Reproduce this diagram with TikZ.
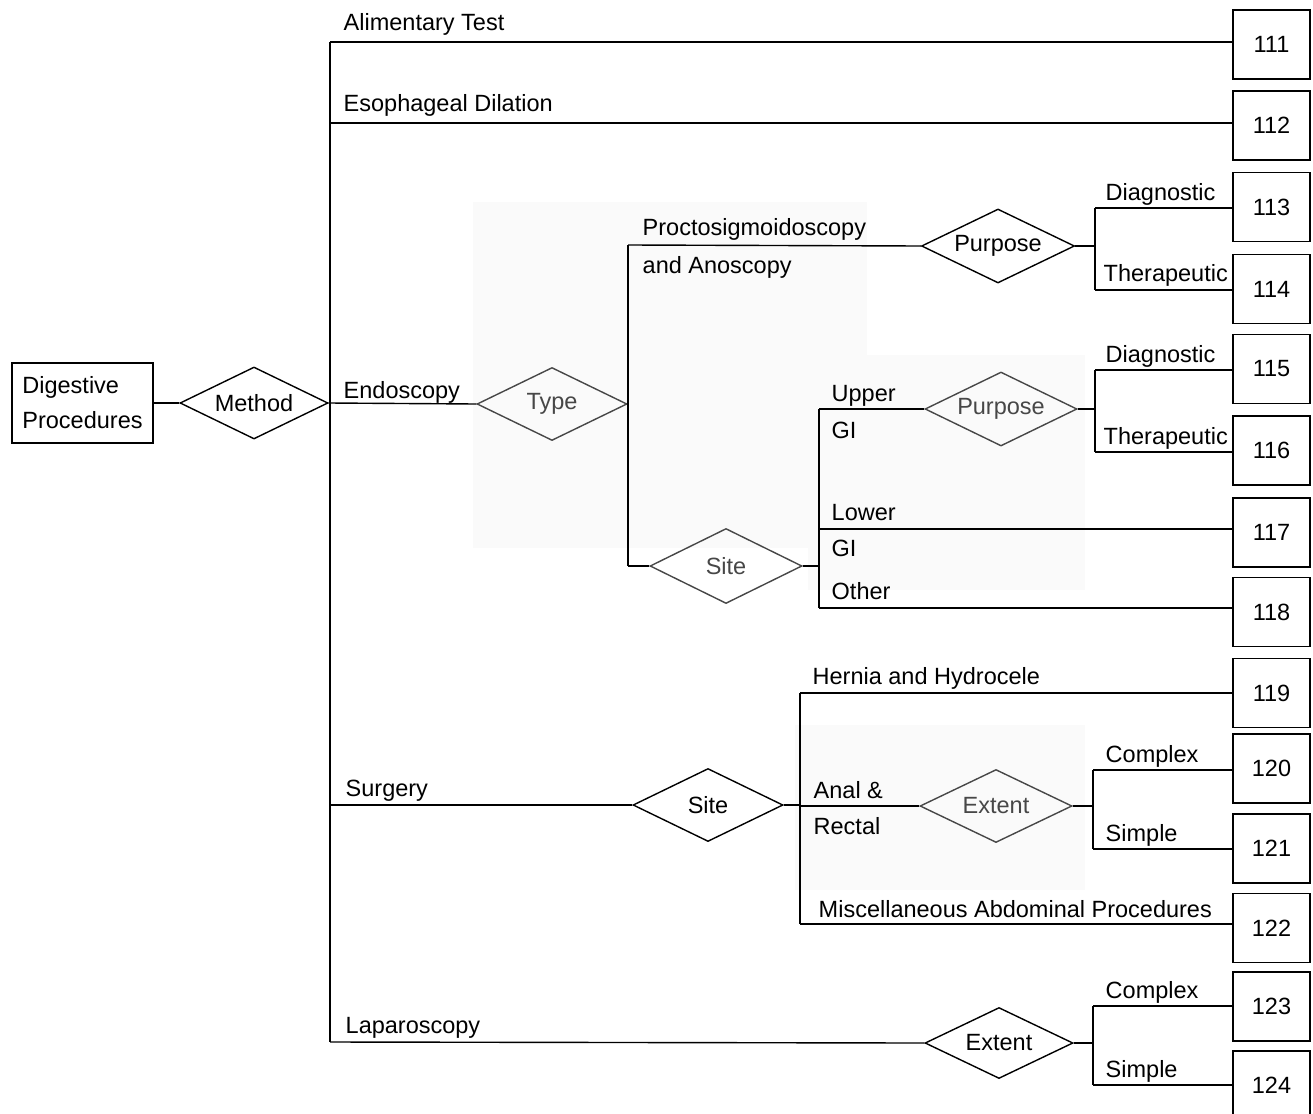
\documentclass[tikz,border=0pt]{standalone}
\usepackage{fontspec}
\setmainfont{Liberation Sans}
\usetikzlibrary{shapes.geometric}
\begin{document}
\begin{tikzpicture}[x=1pt,y=-1pt,line width=1.4pt,
  font=\fontsize{23.5}{35}\selectfont,
  box/.style={draw,minimum width=77pt,minimum height=69pt,inner sep=0pt},
  dia/.style={draw,diamond,aspect=2,minimum width=150pt,minimum height=73pt,inner sep=0pt},
  faded/.style={draw=black!72,text=black!72},
  lbl/.style={anchor=base west,inner sep=0pt},
  shade/.style={fill=black!2,draw=none}]
\useasboundingbox (0,0) rectangle (1313,1113);
\clip (0,0) rectangle (1313,1113);
% faint scanned background areas
\fill[shade] (473,202) rectangle (867,548);
\fill[shade] (808,355) rectangle (1085,590);
\fill[shade] (795,725) rectangle (1085,890);

% root and first decision
\node[draw,minimum width=141pt,minimum height=80pt,inner sep=0pt,align=left] (dp) at (82.5,403) {Digestive\\Procedures};
\node[dia,minimum width=148pt,minimum height=72pt] (method) at (254,403) {Method};

% code boxes
\foreach \n/\y in {111/44.5,112/125.5,113/207,114/289,115/369,116/450.5,117/532.5,118/612,119/693,120/768.5,121/848.5,122/928,123/1006.5,124/1085.5}
  \node[box] (b\n) at (1271.5,\y) {\n};

% decision diamonds
\node[dia,faded] (type) at (552,404) {Type};
\node[dia,minimum width=153pt,minimum height=74pt] (purp1) at (998,246) {Purpose};
\node[dia,faded,minimum width=152pt,minimum height=75pt] (site1) at (726,566) {Site};
\node[dia,faded,minimum width=152pt,minimum height=74pt] (purp2) at (1001,409) {Purpose};
\node[dia,minimum width=150pt,minimum height=73pt] (site2) at (708,805) {Site};
\node[dia,faded,minimum width=152pt,minimum height=73pt] (ext1) at (996,806) {Extent};
\node[dia,minimum width=148pt,minimum height=71pt] (ext2) at (999,1043) {Extent};

% bus coordinates
\coordinate (mtop) at (330,42);
\coordinate (mesd) at (330,123);
\coordinate (msur) at (330,805);
\coordinate (mbot) at (330,1042);
\coordinate (ttop) at (628,245);
\coordinate (tbot) at (628,566);
\coordinate (stop) at (819,409);
\coordinate (slow) at (819,529);
\coordinate (sbot) at (819,608);
\coordinate (htop) at (800,693);
\coordinate (hmid) at (800,806);
\coordinate (hbot) at (800,924);
\coordinate (p1a) at (1095,208);
\coordinate (p1b) at (1095,290);
\coordinate (p2a) at (1095,370);
\coordinate (p2b) at (1095,452);
\coordinate (e1a) at (1093,770);
\coordinate (e1b) at (1093,849);
\coordinate (e2a) at (1093,1006);
\coordinate (e2b) at (1093,1085);

% connectors
\draw (dp) -- (method);
\draw (mtop) -- (mbot);
\draw (mtop) -- (mtop -| b111.west);
\draw (mesd) -- (mesd -| b112.west);
\draw (method.east) -- (type.west);
\draw (msur) -- (site2.west);
\draw (mbot) -- (ext2.west);
% endoscopy type
\draw (ttop) -- (tbot);
\draw (ttop) -- (purp1.west);
\draw (tbot) -- (site1.west);
\draw (purp1.east) -- (purp1.east -| p1a);
\draw (p1a) -- (p1b);
\draw (p1a) -- (p1a -| b113.west);
\draw (p1b) -- (p1b -| b114.west);
% endoscopy site
\draw (site1.east) -- (site1.east -| stop);
\draw (stop) -- (sbot);
\draw (stop) -- (purp2.west);
\draw (purp2.east) -- (purp2.east -| p2a);
\draw (p2a) -- (p2b);
\draw (p2a) -- (p2a -| b115.west);
\draw (p2b) -- (p2b -| b116.west);
\draw (slow) -- (slow -| b117.west);
\draw (sbot) -- (sbot -| b118.west);
% surgery site
\draw (site2.east) -- (site2.east -| htop);
\draw (htop) -- (hbot);
\draw (htop) -- (htop -| b119.west);
\draw (hmid) -- (ext1.west);
\draw (ext1.east) -- (ext1.east -| e1a);
\draw (e1a) -- (e1b);
\draw (e1a) -- (e1a -| b120.west);
\draw (e1b) -- (e1b -| b121.west);
\draw (hbot) -- (hbot -| b122.west);
% laparoscopy extent
\draw (ext2.east) -- (ext2.east -| e2a);
\draw (e2a) -- (e2b);
\draw (e2a) -- (e2a -| b123.west);
\draw (e2b) -- (e2b -| b124.west);

% labels
\node[lbl] (lAT) at (343,31) {Alimentary Test};
\node[lbl] (lED) at (343,112) {Esophageal Dilation};
\node[lbl] (lEn) at (343,398) {Endoscopy};
\node[lbl] (lPr) at (642,235) {Proctosigmoidoscopy};
\node[lbl] (lAn) at (642,273) {and Anoscopy};
\node[lbl] (lD1) at (1105,200) {Diagnostic};
\node[lbl] (lT1) at (1103,281) {Therapeutic};
\node[lbl] (lUp) at (831,401) {Upper};
\node[lbl] (lG1) at (831,438) {GI};
\node[lbl] (lD2) at (1105,362) {Diagnostic};
\node[lbl] (lT2) at (1103,444) {Therapeutic};
\node[lbl] (lLo) at (831,520) {Lower};
\node[lbl] (lG2) at (831,556) {GI};
\node[lbl] (lOt) at (831,599) {Other};
\node[lbl] (lSu) at (345,796) {Surgery};
\node[lbl] (lHe) at (812,684) {Hernia and Hydrocele};
\node[lbl] (lAR) at (813,798) {Anal \&};
\node[lbl] (lRe) at (813,834) {Rectal};
\node[lbl] (lMi) at (818,917) {Miscellaneous Abdominal Procedures};
\node[lbl] (lC1) at (1105,762) {Complex};
\node[lbl] (lS1) at (1105,841) {Simple};
\node[lbl] (lLa) at (345,1033) {Laparoscopy};
\node[lbl] (lC2) at (1105,998) {Complex};
\node[lbl] (lS2) at (1105,1077) {Simple};
\end{tikzpicture}
\end{document}
